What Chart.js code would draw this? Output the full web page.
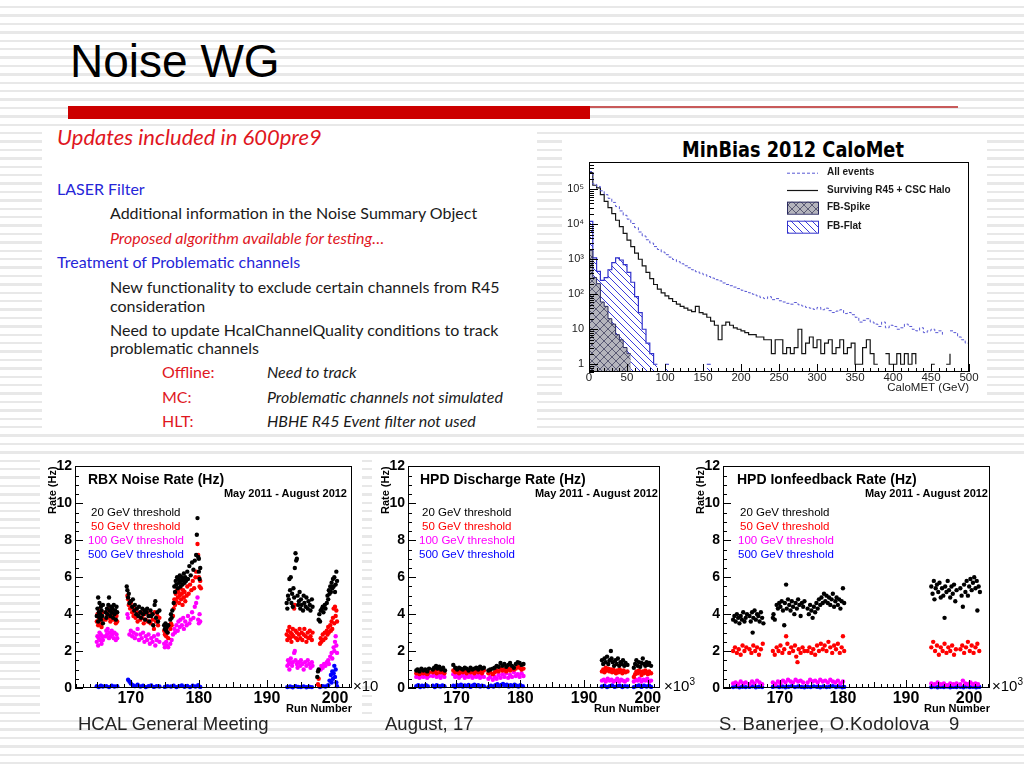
<!DOCTYPE html>
<html>
<head>
<meta charset="utf-8">
<script src="https://cdn.jsdelivr.net/npm/chart.js@4.4.1/dist/chart.umd.min.js"></script>
<style>
html, body { margin: 0; padding: 0; }
body {
    width: 1024px; height: 768px; position: relative; overflow: hidden;
    background: repeating-linear-gradient(to bottom, #fff 0, #fff 6px, #e8e8e8 6px, #e8e8e8 8.4px);
    font-family: "Liberation Sans", Arial, sans-serif;
}
.abs { position: absolute; white-space: nowrap; line-height: 1; }
.panel { position: absolute; background: #fff; }
.txt { position: absolute; white-space: nowrap; line-height: 1; font-family: Lato, "Open Sans", sans-serif; font-size: 16px; color: #1a1a1a; }
.red { color: #e0161e; }
.blue { color: #2626d8; }
.it { font-style: italic; }
.ann { position: absolute; white-space: nowrap; line-height: 1; font-size: 11.5px; }
.ttl { position: absolute; white-space: nowrap; line-height: 1; font-size: 14px; font-weight: bold; }
.per { position: absolute; white-space: nowrap; line-height: 1; font-size: 11px; font-weight: bold; }
.exp { position: absolute; white-space: nowrap; line-height: 1; font-size: 15px; }
.foot { position: absolute; white-space: nowrap; line-height: 1; font-size: 18.5px; color: #222; }
canvas { position: absolute; }
</style>
</head>
<body>

<div class="abs" style="left:70px;top:38px;font-size:46px;color:#000">Noise WG</div>
<div class="abs" style="left:68px;top:106px;width:522px;height:13px;background:#cc0000"></div>
<div class="abs" style="left:590px;top:106px;width:368px;height:2px;background:#c85a5a"></div>

<!-- text block -->
<div class="panel" style="left:42px;top:127px;width:495px;height:306px"></div>
<div class="txt red it" style="left:57px;top:126px;font-size:22px">Updates included in 600pre9</div>
<div class="txt blue" style="left:57px;top:181px">LASER Filter</div>
<div class="txt" style="left:110px;top:205px">Additional information in the Noise Summary Object</div>
<div class="txt red it" style="left:110px;top:230px">Proposed algorithm available for testing…</div>
<div class="txt blue" style="left:57px;top:254px">Treatment of Problematic channels</div>
<div class="txt" style="left:110px;top:279px">New functionality to exclude certain channels from R45</div>
<div class="txt" style="left:110px;top:298px">consideration</div>
<div class="txt" style="left:110px;top:322px">Need to update HcalChannelQuality conditions to track</div>
<div class="txt" style="left:110px;top:340px">problematic channels</div>
<div class="txt red" style="left:162px;top:364px">Offline:</div>
<div class="txt it" style="left:267px;top:364px">Need to track</div>
<div class="txt red" style="left:162px;top:389px">MC:</div>
<div class="txt it" style="left:267px;top:389px">Problematic channels not simulated</div>
<div class="txt red" style="left:162px;top:413px">HLT:</div>
<div class="txt it" style="left:267px;top:413px">HBHE R45 Event filter not used</div>

<!-- histogram -->
<div class="panel" style="left:562px;top:137px;width:425px;height:264px"></div>
<div class="abs" style="left:682px;top:140px;font-family:'DejaVu Sans Condensed','DejaVu Sans';font-weight:bold;font-size:21px;color:#000;transform:scaleX(0.94);transform-origin:left top">MinBias 2012 CaloMet</div>
<canvas id="met" width="430" height="263" style="left:560px;top:137px"></canvas>

<!-- rate plots -->
<div class="panel" style="left:40px;top:457px;width:322px;height:257px"></div>
<div class="panel" style="left:372px;top:457px;width:328px;height:257px"></div>
<div class="panel" style="left:688px;top:457px;width:336px;height:257px"></div>
<canvas id="rbx" width="325" height="262" style="left:40px;top:455px"></canvas>
<canvas id="disch" width="300" height="262" style="left:373px;top:455px"></canvas>
<canvas id="ionfb" width="315" height="262" style="left:688px;top:455px"></canvas>

<div class="ttl" style="left:88px;top:472px">RBX Noise Rate (Hz)</div>
<div class="per" style="right:677px;top:488px">May 2011 - August 2012</div>
<div class="ann" style="left:91px;top:507px;color:#000">20 GeV threshold</div>
<div class="ann" style="left:91px;top:521px;color:#ff0000">50 GeV threshold</div>
<div class="ann" style="left:88px;top:535px;color:#ff00ff">100 GeV threshold</div>
<div class="ann" style="left:88px;top:549px;color:#0000ff">500 GeV threshold</div>
<div class="exp" style="left:353px;top:678px">×10</div>

<div class="ttl" style="left:420px;top:472px">HPD Discharge Rate (Hz)</div>
<div class="per" style="right:366px;top:488px">May 2011 - August 2012</div>
<div class="ann" style="left:422px;top:507px;color:#000">20 GeV threshold</div>
<div class="ann" style="left:422px;top:521px;color:#ff0000">50 GeV threshold</div>
<div class="ann" style="left:419px;top:535px;color:#ff00ff">100 GeV threshold</div>
<div class="ann" style="left:419px;top:549px;color:#0000ff">500 GeV threshold</div>
<div class="exp" style="left:664px;top:677px">×10<sup style="font-size:10px">3</sup></div>

<div class="ttl" style="left:737px;top:472px">HPD Ionfeedback Rate (Hz)</div>
<div class="per" style="right:36px;top:488px">May 2011 - August 2012</div>
<div class="ann" style="left:740px;top:507px;color:#000">20 GeV threshold</div>
<div class="ann" style="left:740px;top:521px;color:#ff0000">50 GeV threshold</div>
<div class="ann" style="left:738px;top:535px;color:#ff00ff">100 GeV threshold</div>
<div class="ann" style="left:738px;top:549px;color:#0000ff">500 GeV threshold</div>
<div class="exp" style="left:992px;top:677px">×10<sup style="font-size:10px">3</sup></div>

<!-- footer -->
<div class="foot" style="left:78px;top:715px">HCAL General Meeting</div>
<div class="foot" style="left:385px;top:715px">August, 17</div>
<div class="foot" style="left:719px;top:715px;letter-spacing:0.3px">S. Banerjee, O.Kodolova</div>
<div class="foot" style="left:949px;top:715px">9</div>

<script>
// ---- CaloMET histogram (5 GeV bins, 0-500 GeV) ----
var metBinWidth = 5;
var metTicks = [0, 50, 100, 150, 200, 250, 300, 350, 400, 450, 500];
var metLogTicks = [1, 10, 100, 1000, 10000, 100000];
var metLogLabels = ['1', '10', '10²', '10³', '10⁴', '10⁵'];

var metAll = [
    320000, 140000, 120000, 90000, 70000, 55000, 42000, 32000, 24000, 18000,
    14000, 10500, 8000, 6000, 4600, 3600, 2900, 2300, 1900, 1600,
    1350, 1150, 980, 850, 740, 650, 570, 500, 440, 400,
    360, 320, 290, 260, 240, 210, 190, 175, 160, 145,
    130, 120, 110, 100, 90, 80, 75, 85, 70, 75,
    65, 60, 55, 52, 58, 50, 46, 42, 40, 37,
    42, 36, 40, 34, 30, 33, 36, 28, 30, 26,
    22, 16, 18, 20, 16, 14, 12, 16, 11, 13,
    12, 10, 11, 14, 12, 10, 9, 11, 8, 9,
    10, 8, 9, 7, 0, 9, 8, 6, 5, 4
];
var metSurviving = [
    300000, 130000, 110000, 70000, 45000, 30000, 20000, 13000, 8500, 5500,
    3500, 2300, 1500, 1000, 650, 420, 280, 190, 140, 110,
    90, 75, 62, 52, 45, 40, 35, 32, 45, 30,
    27, 22, 17, 13, 5, 13, 16, 13, 11, 10,
    9, 8, 7, 7, 6, 6, 5, 5, 2, 5,
    5, 2, 3, 2, 3, 10, 2, 4, 6, 3,
    5, 2, 4, 5, 2, 3, 5, 2, 3, 4,
    1, 1, 3, 5, 2, 1, 1, 0, 2, 1,
    1, 2, 1, 2, 1, 2, 1, 0, 1, 0,
    1, 1, 0, 0, 1, 2, 0, 0, 0, 0
];
var metSpike = [
    1800, 300, 200, 60, 45, 20, 14, 7, 5, 3,
    2, 2, 0, 0, 0, 0, 0, 0, 0, 0,
    0, 0, 0, 0, 0, 0, 0, 0, 0, 0,
    0, 0, 0, 0, 0, 0, 0, 0, 0, 0,
    0, 0, 0, 0, 0, 0, 0, 0, 0, 0,
    0, 0, 0, 0, 0, 0, 0, 0, 0, 0,
    0, 0, 0, 0, 0, 0, 0, 0, 0, 0,
    0, 0, 0, 0, 0, 0, 0, 0, 0, 0,
    0, 0, 0, 0, 0, 0, 0, 0, 0, 0,
    0, 0, 0, 0, 0, 0, 1, 0, 0, 0
];
var metFlat = [
    12000, 1100, 450, 250, 300, 500, 800, 1100, 950, 700,
    420, 220, 85, 30, 10, 4, 2, 1, 1, 0,
    1, 1, 0, 1, 0, 0, 1, 0, 1, 0,
    0, 1, 1, 0, 0, 1, 0, 0, 0, 0,
    0, 0, 1, 0, 0, 0, 0, 0, 0, 2,
    0, 0, 0, 0, 0, 0, 0, 0, 0, 0,
    0, 0, 0, 0, 0, 0, 0, 0, 0, 0,
    0, 0, 0, 0, 0, 1, 0, 0, 0, 0,
    0, 0, 0, 0, 0, 0, 0, 0, 0, 0,
    0, 0, 0, 0, 0, 0, 0, 0, 0, 0
];

// ---- rate vs run number (runs in units of 10^3) ----
var runTicks = [170, 180, 190, 200];
var rateTicks = [0, 2, 4, 6, 8, 10, 12];
var thresholdColors = ['#000000', '#ff0000', '#ff00ff', '#0000ff'];

var rbx20 = [
    [165.0,3.9],[165.1,4.3],[165.2,4.9],[165.2,3.6],[165.3,4.1],[165.4,3.8],[165.4,4.6],[165.5,4.0],[165.6,3.7],[165.6,4.4],[165.7,4.2],[165.8,3.9],[165.9,4.5],[165.9,3.5],
    [166.3,4.1],[166.4,3.8],[166.5,4.3],[166.6,4.0],[166.7,4.5],[166.8,4.9],[166.9,4.2],[167.0,3.9],[167.1,4.4],[167.2,4.1],[167.3,4.3],[167.4,3.8],[167.5,4.5],[167.6,4.0],[167.7,4.2],[167.8,3.7],[167.9,4.4],[168.0,4.1],
    [169.4,5.5],[169.5,5.3],[169.6,4.9],[169.7,5.1],[169.8,4.6],[170.0,4.7],[170.2,4.4],[170.3,4.8],[170.5,4.2],[170.6,4.5],[170.8,4.0],[170.9,4.3],[171.1,3.9],[171.2,4.4],[171.4,4.1],[171.5,3.8],[171.7,4.3],[171.8,4.0],[172.0,4.2],[172.1,3.7],[172.3,4.1],[172.4,4.3],[172.6,3.9],[172.7,3.6],[172.9,4.2],[173.0,3.9],[173.2,4.0],[173.3,3.4],[173.5,4.5],[173.6,4.7],[173.7,3.8],[173.9,4.1],[174.0,3.6],[174.2,4.2],
    [174.9,3.4],[175.0,3.2],[175.1,3.5],[175.2,3.1],[175.3,3.3],[175.4,3.0],[175.5,3.4],
    [175.8,3.7],[175.9,4.0],[176.0,3.8],[176.1,4.2],[176.3,4.6],[176.4,5.5],[176.5,5.2],[176.6,5.8],[176.7,5.6],[176.8,6.0],[176.9,5.4],[177.0,5.9],[177.1,5.7],[177.2,6.1],[177.3,5.5],[177.4,5.8],[177.5,6.0],[177.6,5.6],[177.7,5.9],[177.8,6.2],[177.9,5.7],[178.0,6.0],[178.1,5.8],[178.3,6.3],[178.4,5.9],[178.6,6.6],[178.8,6.1],[179.0,6.8],[179.2,6.4],[179.4,6.9],[179.6,7.2],[179.7,8.3],[179.8,9.2],[179.9,7.1],[180.0,6.3],[180.1,5.9],[180.2,6.5],[180.0,7.0],
    [192.9,4.6],[193.0,4.3],[193.1,5.0],[193.2,4.8],[193.3,5.9],[193.4,5.3],[193.5,6.0],[193.6,4.6],[193.7,5.1],[193.8,4.4],[193.9,5.4],[194.0,4.9],[194.1,6.5],[194.2,7.3],[194.3,6.9],[194.4,7.0],[194.5,5.0],[194.6,4.5],[194.7,4.7],[194.8,5.2],[194.9,4.3],[195.0,4.8],[195.1,4.5],[195.3,4.2],[195.4,5.0],[195.5,4.6],[195.7,4.4],[195.8,4.9],[196.0,4.3],[196.1,4.7],[196.3,4.5],[196.4,4.2],[196.6,4.8],[196.7,4.4],
    [197.4,0.6],[197.5,0.9],[197.6,1.0],[197.6,3.7],[197.7,4.0],[197.8,3.6],[197.9,4.2],[198.1,4.3],[198.2,4.4],[198.3,4.1],[198.5,4.5],[198.6,4.3],[198.8,4.6],[198.9,5.0],[199.0,4.8],[199.1,5.3],[199.2,5.1],[199.3,5.5],[199.4,5.2],[199.5,5.7],[199.6,5.4],[199.7,5.9],[199.8,5.5],[199.9,6.0],[200.0,5.2],[200.1,5.6],[200.2,6.3],[200.3,5.8]
];
var rbx50 = [
    [165.0,3.6],[165.1,4.0],[165.2,3.4],[165.3,3.8],[165.4,4.2],[165.5,3.5],[165.6,3.9],[165.7,3.3],[165.8,4.1],[165.9,3.7],
    [166.3,3.7],[166.4,4.1],[166.5,3.9],[166.6,4.3],[166.8,3.8],[166.9,4.2],[167.0,3.6],[167.1,4.0],[167.3,3.8],[167.4,4.2],[167.5,3.7],[167.7,4.1],[167.8,3.5],[167.9,3.9],[168.0,3.6],
    [169.5,5.0],[169.6,4.8],[169.7,4.5],[169.9,4.3],[170.0,4.6],[170.2,4.1],[170.4,3.9],[170.5,4.3],[170.7,3.8],[170.9,4.1],[171.0,3.6],[171.2,4.0],[171.4,3.7],[171.5,4.1],[171.7,3.8],[171.9,3.5],[172.0,4.0],[172.2,3.7],[172.4,4.1],[172.5,3.6],[172.7,3.9],[172.9,3.5],[173.0,4.0],[173.2,3.7],[173.4,3.2],[173.5,4.1],[173.7,3.6],[173.9,3.9],[174.0,3.4],[174.2,3.8],
    [174.9,3.1],[175.0,2.9],[175.1,3.2],[175.2,2.8],[175.4,3.0],[175.5,2.7],
    [175.8,3.2],[175.9,3.5],[176.0,3.4],[176.2,3.9],[176.3,4.3],[176.4,4.8],[176.5,4.5],[176.6,5.1],[176.7,4.7],[176.8,5.3],[176.9,4.9],[177.0,5.2],[177.1,4.6],[177.2,5.0],[177.3,5.4],[177.4,4.8],[177.5,5.1],[177.6,4.5],[177.7,5.3],[177.8,4.9],[177.9,5.2],[178.0,4.7],[178.2,5.0],[178.3,5.5],[178.5,5.1],[178.7,5.6],[178.9,5.3],[179.1,5.8],[179.3,5.4],[179.5,6.0],[179.6,6.3],[179.8,7.8],[179.9,7.2],[180.0,6.0],[180.1,5.5],[180.2,5.8],[180.3,5.4],
    [192.9,2.9],[193.0,2.6],[193.1,3.1],[193.2,2.8],[193.3,3.3],[193.4,2.7],[193.5,3.0],[193.6,2.5],[193.7,2.9],[193.8,3.2],[193.9,2.8],[194.0,4.3],[194.1,4.5],[194.2,3.1],[194.3,2.7],[194.4,3.0],[194.5,2.6],[194.7,2.9],[194.8,3.2],[194.9,2.7],[195.1,3.0],[195.2,2.6],[195.4,2.9],[195.5,3.2],[195.7,2.8],[195.8,2.5],[196.0,3.0],[196.1,2.7],[196.3,3.1],[196.4,2.8],[196.6,2.6],[196.7,3.0],
    [197.5,0.2],[197.6,0.5],[197.7,0.1],[197.8,2.4],[197.9,2.7],[198.0,2.5],[198.2,2.9],[198.3,2.6],[198.5,3.0],[198.6,2.7],[198.8,3.1],[198.9,2.9],[199.0,3.3],[199.1,3.0],[199.3,3.4],[199.4,3.1],[199.5,3.6],[199.6,3.2],[199.7,3.8],[199.8,4.3],[199.9,3.5],[200.0,4.4],[200.1,3.9],[200.2,4.2],[200.3,3.6]
];
var rbx100 = [
    [165.0,2.5],[165.1,2.8],[165.2,2.3],[165.3,2.7],[165.4,3.0],[165.5,2.6],[165.6,2.9],[165.7,2.4],[165.8,2.8],[165.9,2.6],
    [166.3,2.8],[166.4,3.1],[166.5,2.9],[166.6,3.2],[166.8,2.7],[166.9,3.0],[167.0,2.8],[167.2,3.1],[167.3,2.9],[167.5,2.7],[167.6,3.0],[167.8,2.6],[167.9,2.9],[168.0,2.7],
    [169.5,4.0],[169.6,3.8],[169.8,2.9],[170.0,3.1],[170.2,2.8],[170.4,3.0],[170.6,2.7],[170.8,2.9],[171.0,3.2],[171.2,2.6],[171.4,2.9],[171.6,2.7],[171.8,3.0],[172.0,2.5],[172.2,2.8],[172.4,2.6],[172.6,2.9],[172.8,2.4],[173.0,2.7],[173.2,2.5],[173.4,2.8],[173.6,2.3],[173.8,2.6],[174.0,2.9],[174.2,2.5],
    [174.9,2.4],[175.0,2.2],[175.2,2.5],[175.3,2.3],[175.5,2.2],
    [175.8,2.4],[176.0,2.6],[176.2,2.9],[176.4,3.2],[176.5,3.0],[176.7,3.4],[176.9,3.1],[177.0,3.6],[177.2,3.3],[177.3,3.7],[177.5,3.4],[177.7,3.8],[177.8,3.2],[178.0,3.6],[178.2,3.4],[178.4,3.9],[178.6,3.5],[178.8,3.7],[179.0,4.1],[179.2,3.8],[179.4,4.4],[179.6,4.6],[179.8,4.9],[179.9,3.7],[180.0,3.5],[180.1,4.0],[180.2,3.6],
    [193.0,1.2],[193.1,1.5],[193.2,1.3],[193.3,1.0],[193.4,1.4],[193.5,1.6],[193.7,1.2],[193.8,1.4],[194.0,1.9],[194.1,2.0],[194.2,1.5],[194.4,1.3],[194.5,1.1],[194.7,1.4],[194.9,1.2],[195.0,1.5],[195.2,1.3],[195.4,1.0],[195.6,1.4],[195.8,1.2],[196.0,1.5],[196.2,1.3],[196.4,1.1],[196.6,1.4],[196.7,1.2],
    [197.9,1.0],[198.0,1.2],[198.2,1.1],[198.4,1.3],[198.6,1.2],[198.8,1.4],[199.0,1.5],[199.1,1.3],[199.3,1.7],[199.5,1.9],[199.6,1.6],[199.8,2.2],[199.9,2.0],[200.0,2.5],[200.1,2.8],[200.2,2.3],[200.3,1.9]
];
var rbx500 = [
    [165.0,0.1],[165.3,0.05],[165.6,0.12],[165.9,0.08],[166.4,0.1],[166.8,0.05],[167.2,0.12],[167.6,0.08],[168.0,0.1],
    [169.6,0.45],[169.8,0.35],[170.0,0.25],[170.3,0.15],[170.6,0.1],[171.0,0.18],[171.4,0.08],[171.8,0.12],[172.2,0.05],[172.6,0.1],[173.0,0.14],[173.4,0.06],[173.8,0.1],[174.2,0.08],
    [175.0,0.06],[175.4,0.1],[175.9,0.08],[176.3,0.12],[176.7,0.05],[177.1,0.1],[177.5,0.14],[177.9,0.07],[178.3,0.11],[178.7,0.05],[179.1,0.12],[179.5,0.08],[179.9,0.15],[180.2,0.06],
    [193.0,0.05],[193.4,0.08],[193.8,0.04],[194.2,0.1],[194.6,0.06],[195.0,0.05],[195.4,0.09],[195.8,0.04],[196.2,0.07],[196.6,0.05],
    [197.8,0.05],[198.2,0.1],[198.6,0.08],[199.0,0.15],[199.2,0.4],[199.4,0.7],[199.5,0.3],[199.6,0.9],[199.7,0.5],[199.8,0.8],[199.9,1.2],[200.0,0.6],[200.1,1.0],[200.2,0.3],[200.3,0.1]
];

var disch20 = [
    [163.7,0.95],[163.9,1.0],[164.2,0.9],[164.5,1.05],[164.8,0.95],[165.1,1.0],[165.4,0.9],[165.7,1.05],
    [166.3,1.0],[166.5,1.1],[166.8,1.2],[167.0,1.05],[167.3,1.15],[167.6,1.0],[167.9,1.1],[168.2,0.95],
    [169.5,1.25],[169.8,1.1],[170.1,1.0],[170.4,1.1],[170.7,1.05],[171.0,1.0],[171.3,1.1],[171.6,1.05],[171.9,0.95],[172.2,1.1],[172.5,1.0],[172.8,1.05],[173.1,1.1],[173.4,1.0],[173.7,1.15],[174.0,1.05],[174.3,1.1],
    [175.0,0.95],[175.3,1.0],[175.7,1.05],
    [176.0,1.1],[176.3,1.2],[176.6,1.15],[176.9,1.35],[177.2,1.2],[177.5,1.3],[177.8,1.15],[178.1,1.25],[178.4,1.35],[178.7,1.2],[179.0,1.1],[179.3,1.3],[179.6,1.4],[179.9,1.35],[180.2,1.25],[180.5,1.3],
    [192.8,1.5],[193.0,1.3],[193.2,1.6],[193.4,1.4],[193.6,1.7],[193.8,1.3],[194.0,1.5],[194.2,2.0],[194.3,1.6],[194.5,1.4],[194.7,1.2],[194.9,1.5],[195.1,1.3],[195.3,1.6],[195.5,1.2],[195.7,1.4],[195.9,1.3],[196.1,1.5],[196.3,1.2],[196.5,1.35],[196.8,1.25],
    [197.8,1.1],[198.0,1.3],[198.2,1.5],[198.4,1.2],[198.6,1.4],[198.8,1.15],[199.0,1.35],[199.2,1.6],[199.4,1.3],[199.6,1.2],[199.8,1.4],[200.0,1.25],[200.2,1.35],[200.5,1.2]
];
var disch50 = [
    [163.7,0.8],[163.9,0.9],[164.2,0.75],[164.5,0.85],[164.8,0.8],[165.1,0.9],[165.4,0.75],[165.7,0.85],
    [166.3,0.85],[166.6,0.95],[166.9,0.8],[167.2,1.0],[167.5,0.85],[167.8,0.9],[168.1,0.8],
    [169.5,0.95],[169.8,0.85],[170.1,0.9],[170.4,0.8],[170.7,0.95],[171.0,0.85],[171.3,0.9],[171.6,0.8],[171.9,0.95],[172.2,0.85],[172.5,0.9],[172.8,0.8],[173.1,0.95],[173.4,0.85],[173.7,0.9],[174.0,0.8],[174.3,0.95],
    [175.0,0.8],[175.3,0.85],[175.7,0.75],
    [176.0,0.85],[176.3,0.95],[176.6,0.9],[176.9,1.05],[177.2,0.95],[177.5,1.0],[177.8,0.9],[178.1,1.05],[178.4,0.95],[178.7,1.1],[179.0,1.0],[179.3,1.05],[179.6,1.15],[179.9,1.1],[180.2,1.0],[180.5,1.05],
    [192.8,0.9],[193.0,1.0],[193.2,0.85],[193.4,1.1],[193.6,0.95],[193.8,1.05],[194.0,0.9],[194.2,1.0],[194.4,0.85],[194.6,1.0],[194.8,0.9],[195.0,0.8],[195.2,0.95],[195.4,0.85],[195.6,1.0],[195.8,0.9],[196.0,0.8],[196.2,0.95],[196.5,0.85],[196.8,0.9],
    [197.8,0.6],[198.0,0.75],[198.2,0.9],[198.4,0.8],[198.6,0.95],[198.8,0.85],[199.0,0.7],[199.2,0.9],[199.4,0.8],[199.6,0.95],[199.8,0.85],[200.0,0.75],[200.2,0.9],[200.5,0.8]
];
var disch100 = [
    [163.7,0.6],[163.9,0.7],[164.2,0.55],[164.5,0.65],[164.8,0.6],[165.1,0.7],[165.4,0.55],[165.7,0.65],
    [166.3,0.65],[166.6,0.75],[166.9,0.6],[167.2,0.7],[167.5,0.55],[167.8,0.7],[168.1,0.6],
    [169.5,0.75],[169.8,0.6],[170.1,0.7],[170.4,0.55],[170.7,0.65],[171.0,0.7],[171.3,0.55],[171.6,0.65],[171.9,0.6],[172.2,0.7],[172.5,0.55],[172.8,0.65],[173.1,0.6],[173.4,0.7],[173.7,0.55],[174.0,0.65],[174.3,0.6],
    [175.0,0.5],[175.3,0.6],[175.7,0.45],
    [176.0,0.6],[176.3,0.5],[176.6,0.7],[176.9,0.55],[177.2,0.75],[177.5,0.6],[177.8,0.8],[178.1,0.55],[178.4,0.7],[178.7,0.6],[179.0,0.85],[179.3,0.65],[179.6,0.75],[179.9,0.6],[180.2,0.8],[180.5,0.65],
    [192.8,0.4],[193.1,0.45],[193.4,0.35],[193.7,0.5],[194.0,0.4],[194.3,0.45],[194.6,0.35],[194.9,0.4],[195.2,0.5],[195.5,0.35],[195.8,0.45],[196.1,0.4],[196.4,0.35],[196.8,0.45],
    [197.8,0.35],[198.1,0.45],[198.4,0.4],[198.7,0.5],[199.0,0.35],[199.3,0.45],[199.6,0.4],[199.9,0.5],[200.2,0.35],[200.5,0.4]
];
var disch500 = [
    [163.7,0.1],[164.0,0.15],[164.3,0.05],[164.6,0.12],[164.9,0.08],[165.2,0.15],[165.5,0.1],
    [166.3,0.12],[166.6,0.05],[166.9,0.15],[167.2,0.1],[167.5,0.08],[167.8,0.14],[168.1,0.1],
    [169.5,0.12],[169.8,0.05],[170.1,0.15],[170.4,0.1],[170.7,0.18],[171.0,0.08],[171.3,0.14],[171.6,0.1],[171.9,0.16],[172.2,0.06],[172.5,0.12],[172.8,0.18],[173.1,0.1],[173.4,0.15],[173.7,0.08],[174.0,0.13],[174.3,0.1],
    [175.0,0.05],[175.4,0.12],[175.8,0.08],[176.1,0.15],[176.4,0.2],[176.7,0.1],[177.0,0.16],[177.3,0.22],[177.6,0.12],[177.9,0.18],[178.2,0.08],[178.5,0.15],[178.8,0.1],[179.1,0.18],[179.4,0.12],[179.7,0.08],[180.0,0.15],[180.4,0.1],
    [192.8,0.08],[193.2,0.12],[193.6,0.05],[194.0,0.1],[194.4,0.14],[194.8,0.06],[195.2,0.1],[195.6,0.13],[196.0,0.05],[196.4,0.1],[196.8,0.08],
    [197.8,0.05],[198.2,0.1],[198.6,0.14],[199.0,0.06],[199.4,0.12],[199.8,0.08],[200.2,0.13],[200.5,0.06]
];

var ionfb20 = [
    [162.6,3.7],[162.8,3.9],[163.0,3.6],[163.2,4.0],[163.4,3.8],[163.6,3.5],[163.8,3.9],[164.0,3.7],[164.2,4.1],[164.4,3.6],[164.6,3.8],[164.8,4.0],
    [165.2,3.9],[165.4,3.6],[165.6,4.1],[165.7,3.0],[165.8,3.8],[166.0,4.2],[166.2,3.7],[166.4,4.0],[166.6,3.9],[166.8,3.6],[167.0,4.1],[167.2,3.8],[167.4,3.5],
    [168.9,3.8],[169.0,4.0],[169.2,3.7],[169.5,4.5],[169.7,4.3],[169.9,4.6],[170.1,4.4],[170.3,4.7],[170.5,4.2],[170.7,3.4],[170.8,4.6],[171.0,5.6],[171.1,4.3],[171.3,4.8],[171.5,4.5],[171.7,4.2],[171.9,4.7],[172.1,4.4],[172.3,4.0],[172.5,4.6],[172.7,4.3],[172.9,4.8],[173.1,4.5],[173.3,3.9],[173.5,4.6],[173.7,4.4],[173.9,4.7],
    [174.4,4.3],[174.6,4.0],[174.8,4.5],[175.0,4.2],[175.2,3.8],[175.4,4.4],[175.6,4.1],[175.8,4.6],[176.0,4.3],[176.2,4.8],[176.4,4.5],[176.6,4.9],[176.8,4.6],[177.0,5.1],[177.2,4.7],[177.4,5.0],[177.6,4.6],[177.8,4.9],[178.0,4.5],[178.2,4.8],[178.4,5.1],[178.6,4.4],[178.8,4.7],[179.0,4.9],[179.2,4.5],[179.4,4.8],[179.6,4.3],[179.8,4.7],[180.0,5.4],[180.2,4.6],
    [194.0,5.5],[194.2,5.1],[194.4,5.8],[194.5,4.8],[194.7,5.4],[194.9,5.6],[195.1,5.2],[195.3,5.7],[195.5,4.9],[195.7,5.4],[195.9,5.0],[196.1,3.8],[196.2,5.5],[196.4,5.2],[196.6,5.8],[196.8,5.3],[197.0,4.9],[197.2,5.5],[197.4,5.1],[197.6,5.6],[197.8,4.7],[198.0,5.3],
    [198.6,5.4],[198.8,5.0],[199.0,4.4],[199.2,5.6],[199.4,5.2],[199.6,5.8],[199.8,5.0],[200.0,5.5],[200.2,5.9],[200.4,5.3],[200.6,5.7],[200.8,6.0],[201.0,5.4],[201.2,5.8],[201.3,4.2],[201.5,5.5],[201.7,5.2]
];
var ionfb50 = [
    [162.6,2.0],[162.9,2.2],[163.2,1.9],[163.5,2.1],[163.8,1.8],[164.1,2.3],[164.4,2.0],[164.7,2.2],
    [165.2,2.1],[165.5,1.9],[165.8,2.3],[166.1,2.0],[166.4,2.2],[166.7,1.8],[167.0,2.1],[167.3,2.4],
    [168.9,2.0],[169.2,1.8],[169.5,2.2],[169.8,2.0],[170.1,2.3],[170.4,1.9],[170.7,2.1],[171.0,2.8],[171.2,2.4],[171.5,1.9],[171.8,2.2],[172.1,2.0],[172.4,2.3],[172.6,1.7],[172.8,1.4],[173.0,2.1],[173.3,1.9],[173.6,2.2],[173.9,2.0],
    [174.4,2.0],[174.7,2.2],[175.0,1.9],[175.3,2.1],[175.6,1.8],[175.9,2.3],[176.2,2.0],[176.5,2.4],[176.8,2.1],[177.1,2.3],[177.4,2.0],[177.7,2.5],[178.0,2.2],[178.3,1.9],[178.6,2.3],[178.9,2.1],[179.2,2.4],[179.5,1.9],[179.8,2.2],[180.0,2.8],[180.2,2.0],
    [194.0,2.2],[194.3,2.5],[194.6,2.0],[194.9,2.3],[195.2,1.8],[195.5,2.2],[195.8,2.0],[196.1,2.4],[196.4,1.9],[196.7,2.2],[197.0,2.0],[197.3,2.3],[197.6,1.8],[197.9,2.1],
    [198.6,2.1],[198.9,2.3],[199.2,1.9],[199.5,2.2],[199.8,2.5],[200.1,2.0],[200.4,2.3],[200.7,1.9],[201.0,2.2],[201.3,2.4],[201.6,2.0]
];
var ionfb100 = [
    [162.6,0.25],[163.0,0.3],[163.4,0.2],[163.8,0.35],[164.2,0.25],[164.6,0.3],[165.2,0.2],[165.6,0.35],[166.0,0.25],[166.4,0.4],[166.8,0.3],[167.2,0.2],
    [168.9,0.3],[169.3,0.2],[169.7,0.35],[170.1,0.25],[170.5,0.4],[170.9,0.3],[171.3,0.45],[171.7,0.35],[172.1,0.3],[172.5,0.45],[172.9,0.35],[173.3,0.4],[173.7,0.3],
    [174.4,0.3],[174.8,0.45],[175.2,0.35],[175.6,0.4],[176.0,0.3],[176.4,0.45],[176.8,0.35],[177.2,0.4],[177.6,0.3],[178.0,0.45],[178.4,0.35],[178.8,0.3],[179.2,0.4],[179.6,0.25],[180.0,0.35],
    [194.0,0.25],[194.5,0.2],[195.0,0.3],[195.5,0.2],[196.0,0.25],[196.5,0.15],[197.0,0.25],[197.5,0.2],[198.0,0.25],
    [198.6,0.2],[199.0,0.4],[199.4,0.25],[199.8,0.2],[200.2,0.3],[200.6,0.2],[201.0,0.25],[201.4,0.2]
];
var ionfb500 = [
    [162.6,0.05],[163.1,0.08],[163.6,0.04],[164.1,0.07],[164.6,0.05],[165.2,0.06],[165.7,0.09],[166.2,0.04],[166.7,0.07],[167.2,0.05],
    [168.9,0.06],[169.4,0.09],[169.9,0.05],[170.4,0.08],[170.9,0.04],[171.4,0.07],[171.9,0.1],[172.4,0.05],[172.9,0.08],[173.4,0.06],[173.9,0.04],
    [174.4,0.07],[174.9,0.05],[175.4,0.09],[175.9,0.06],[176.4,0.04],[176.9,0.08],[177.4,0.05],[177.9,0.07],[178.4,0.1],[178.9,0.05],[179.4,0.08],[179.9,0.04],[180.2,0.06],
    [194.0,0.05],[194.5,0.08],[195.0,0.04],[195.5,0.07],[196.0,0.05],[196.5,0.08],[197.0,0.04],[197.5,0.06],[198.0,0.05],
    [198.6,0.07],[199.1,0.04],[199.6,0.08],[200.1,0.05],[200.6,0.07],[201.1,0.04],[201.6,0.06]
];

// Moldura e marcas de escala no estilo ROOT (para dentro do gráfico)
var rootFrame = {
    id: 'rootFrame',
    afterDatasetsDraw: function (chart, args, o) {
        var ctx = chart.ctx, a = chart.chartArea;
        var xs = chart.scales.x, ys = chart.scales.y;
        ctx.save();
        ctx.strokeStyle = '#000';
        ctx.lineWidth = 1;
        ctx.strokeRect(Math.round(a.left) + 0.5, Math.round(a.top) + 0.5, Math.round(a.right - a.left) - 1, Math.round(a.bottom - a.top) - 1);
        ctx.beginPath();
        var i, v, p, len;
        for (i = Math.ceil(xs.min / o.xMinor); i * o.xMinor <= xs.max; i++) {
            v = i * o.xMinor;
            p = Math.round(xs.getPixelForValue(v)) + 0.5;
            len = (Math.abs(v / o.xMajor - Math.round(v / o.xMajor)) < 1e-6) ? 8 : ((o.xMid && Math.abs(v / o.xMid - Math.round(v / o.xMid)) < 1e-6) ? 6 : 4);
            ctx.moveTo(p, a.bottom);
            ctx.lineTo(p, a.bottom - len);
        }
        if (o.logY) {
            for (var d = -1; d <= 6; d++) {
                for (var k = 1; k <= 9; k++) {
                    v = k * Math.pow(10, d);
                    if (v < ys.min || v > ys.max) continue;
                    p = Math.round(ys.getPixelForValue(v)) + 0.5;
                    ctx.moveTo(a.left, p);
                    ctx.lineTo(a.left + (k === 1 ? 9 : 5), p);
                }
            }
        } else {
            for (i = Math.ceil(ys.min / o.yMinor); i * o.yMinor <= ys.max; i++) {
                v = i * o.yMinor;
                p = Math.round(ys.getPixelForValue(v)) + 0.5;
                len = (Math.abs(v / o.yMajor - Math.round(v / o.yMajor)) < 1e-6) ? 8 : 4;
                ctx.moveTo(a.left, p);
                ctx.lineTo(a.left + len, p);
            }
        }
        ctx.stroke();
        ctx.restore();
    }
};

// Legenda do histograma, desenhada dentro da área do gráfico
var metLegend = {
    id: 'metLegend',
    afterDraw: function (chart, args, o) {
        var ctx = chart.ctx;
        ctx.save();
        ctx.font = 'bold 10px "Liberation Sans"';
        ctx.textBaseline = 'middle';
        chart.data.datasets.forEach(function (ds, i) {
            var y = o.rows[i];
            if (ds.fill) {
                ctx.fillStyle = '#fff';
                ctx.fillRect(o.x0, y - 6, o.x1 - o.x0, 12);
                ctx.fillStyle = ds.backgroundColor;
                ctx.fillRect(o.x0, y - 6, o.x1 - o.x0, 12);
                ctx.strokeStyle = ds.borderColor;
                ctx.lineWidth = 1;
                ctx.strokeRect(o.x0 + 0.5, y - 5.5, o.x1 - o.x0, 12);
            } else {
                ctx.strokeStyle = ds.borderColor;
                ctx.lineWidth = ds.borderWidth;
                ctx.setLineDash(ds.borderDash || []);
                ctx.beginPath();
                ctx.moveTo(o.x0, y + 0.5);
                ctx.lineTo(o.x1, y + 0.5);
                ctx.stroke();
                ctx.setLineDash([]);
            }
            ctx.fillStyle = '#1a1a1a';
            ctx.fillText(ds.label, o.tx, y);
        });
        ctx.restore();
    }
};

function hatch(bg, fg, dirs, size) {
    var c = document.createElement('canvas');
    c.width = size; c.height = size;
    var g = c.getContext('2d');
    if (bg) { g.fillStyle = bg; g.fillRect(0, 0, size, size); }
    g.strokeStyle = fg;
    g.lineWidth = 1;
    g.beginPath();
    var h = size / 2;
    if (dirs.indexOf('\\') >= 0) {
        g.moveTo(0, 0); g.lineTo(size, size);
        g.moveTo(-h, h); g.lineTo(h, size + h);
        g.moveTo(h, -h); g.lineTo(size + h, h);
    }
    if (dirs.indexOf('/') >= 0) {
        g.moveTo(0, size); g.lineTo(size, 0);
        g.moveTo(-h, h); g.lineTo(h, -h);
        g.moveTo(h, size + h); g.lineTo(size + h, h);
    }
    g.stroke();
    return g.createPattern(c, 'repeat');
}

function steps(values) {
    var out = values.map(function (v, i) { return { x: i * metBinWidth, y: v }; });
    out.push({ x: values.length * metBinWidth, y: values[values.length - 1] });
    return out;
}

function pts(arr) {
    return arr.map(function (p) { return { x: p[0], y: p[1] }; });
}

var helvBold = function (size) { return { family: 'Liberation Sans', weight: 'bold', size: size }; };

new Chart(document.getElementById('met'), {
    type: 'line',
    data: {
        datasets: [
            { label: 'All events', data: steps(metAll), borderColor: '#5757d4', borderWidth: 1, borderDash: [3, 2], stepped: true, pointRadius: 0, fill: false, order: 0 },
            { label: 'Surviving R45 + CSC Halo', data: steps(metSurviving), borderColor: '#151515', borderWidth: 1.2, stepped: true, pointRadius: 0, fill: false, order: 1 },
            { label: 'FB-Spike', data: steps(metSpike), borderColor: '#2b2b60', borderWidth: 1, backgroundColor: hatch('#b4b4bc', '#5a5a74', '\\/', 8), stepped: true, pointRadius: 0, fill: 'start', order: 2 },
            { label: 'FB-Flat', data: steps(metFlat), borderColor: '#3232cc', borderWidth: 1.2, backgroundColor: hatch(null, '#3c3cdc', '\\', 7), stepped: true, pointRadius: 0, fill: 'start', order: 3 }
        ]
    },
    options: {
        responsive: false,
        animation: false,
        events: [],
        layout: { padding: { top: 25, right: 21, left: 0, bottom: 0 }, autoPadding: false },
        plugins: {
            legend: { display: false },
            tooltip: { enabled: false },
            rootFrame: { xMinor: 10, xMajor: 50, logY: true },
            metLegend: { x0: 227, x1: 258, tx: 267, rows: [35.7, 53, 70.7, 89.7] }
        },
        scales: {
            x: {
                type: 'linear', min: 0, max: 500,
                grid: { display: false, drawTicks: false }, border: { display: false },
                afterBuildTicks: function (s) { s.ticks = metTicks.map(function (v) { return { value: v }; }); },
                afterFit: function (s) { s.height = 28; },
                ticks: { autoSkip: false, maxRotation: 0, padding: -1, color: '#222', font: { family: 'Liberation Sans', size: 11.5 } },
                title: { display: true, text: 'CaloMET (GeV)', align: 'end', color: '#222', padding: { top: 0, bottom: 5 }, font: { family: 'Liberation Sans', size: 11.5 } }
            },
            y: {
                type: 'logarithmic', min: 0.6, max: 600000,
                grid: { display: false, drawTicks: false }, border: { display: false },
                afterBuildTicks: function (s) { s.ticks = metLogTicks.map(function (v) { return { value: v }; }); },
                afterFit: function (s) { s.width = 29; },
                ticks: { autoSkip: false, padding: 5, color: '#222', font: { family: 'Liberation Sans', size: 11 },
                    callback: function (v, i) { return metLogLabels[i]; } }
            }
        }
    },
    plugins: [rootFrame, metLegend]
});

function rateChart(id, xMin, xMax, sets) {
    return new Chart(document.getElementById(id), {
        type: 'scatter',
        data: {
            datasets: sets.map(function (s, i) {
                return { data: pts(s), backgroundColor: thresholdColors[i], borderWidth: 0, pointRadius: 2.2, clip: false };
            })
        },
        options: {
            responsive: false,
            animation: false,
            events: [],
            layout: { padding: { top: 9, right: 13, left: 0, bottom: 0 }, autoPadding: false },
            plugins: {
                legend: { display: false },
                tooltip: { enabled: false },
                rootFrame: { xMinor: 1, xMid: 5, xMajor: 10, yMinor: 0.5, yMajor: 2 }
            },
            scales: {
                x: {
                    type: 'linear', min: xMin, max: xMax,
                    grid: { display: false, drawTicks: false }, border: { display: false },
                    afterBuildTicks: function (s) { s.ticks = runTicks.map(function (v) { return { value: v }; }); },
                    afterFit: function (s) { s.height = 29; },
                    ticks: { autoSkip: false, maxRotation: 0, padding: 1, color: '#000', font: helvBold(16) },
                    title: { display: true, text: 'Run Number', align: 'end', color: '#000', padding: { top: 0, bottom: 1 }, font: helvBold(11) }
                },
                y: {
                    type: 'linear', min: 0, max: 12,
                    grid: { display: false, drawTicks: false }, border: { display: false },
                    afterBuildTicks: function (s) { s.ticks = rateTicks.map(function (v) { return { value: v }; }); },
                    afterFit: function (s) { s.width = 35; },
                    ticks: { autoSkip: false, padding: 3, color: '#000', font: helvBold(14) },
                    title: { display: true, text: 'Rate (Hz)', align: 'end', color: '#000', padding: { top: 6, bottom: 0 }, font: helvBold(11) }
                }
            }
        },
        plugins: [rootFrame]
    });
}

rateChart('rbx', 161.8, 202.5, [rbx20, rbx50, rbx100, rbx500]);
rateChart('disch', 162.4, 201.9, [disch20, disch50, disch100, disch500]);
rateChart('ionfb', 161.0, 203.3, [ionfb20, ionfb50, ionfb100, ionfb500]);
</script>
</body>
</html>
